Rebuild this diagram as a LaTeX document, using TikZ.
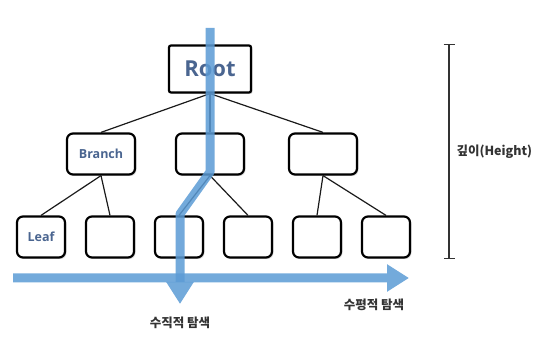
\documentclass[tikz,border=0pt]{standalone}
\usepackage{fontspec}
\setmainfont{Noto Sans CJK KR}
\newfontfamily\boxfont{Open Sans}
\usepackage{tikz}
\usetikzlibrary{
  arrows.meta,
  shadows
}
\definecolor{trFlow}{HTML}{5B9BD5}
\definecolor{trText}{HTML}{4A6590}
\definecolor{trLine}{HTML}{1A1A1A}
\tikzset{
  treebox/.style={
    draw=black, line width=2.2pt, rounded corners=6pt, fill=white,
    minimum width=48pt, minimum height=41pt, inner sep=0pt,
    font=\boxfont\bfseries\fontsize{12.5}{15}\selectfont, text=trText,
    drop shadow={shadow xshift=1.5pt, shadow yshift=-1.5pt, opacity=0.3}
  },
  rootbox/.style={treebox, rounded corners=2pt, minimum width=82pt, minimum height=47pt, font=\boxfont\bfseries\fontsize{22}{26}\selectfont},
  branchbox/.style={treebox, minimum width=68pt},
  leafbox/.style={treebox},
  edge/.style={line width=1.2pt, trLine},
  search/.style={line width=9pt, trFlow, -{Triangle[length=22pt, width=26pt]}},
  tag/.style={font=\bfseries\fontsize{12.5}{15}\selectfont, text=black!80}
}
\begin{document}
\begin{tikzpicture}[x=1pt, y=-1pt]
  \useasboundingbox (0,0) rectangle (550,339);
  % tree
  \node[rootbox] (root) at (210,69) {Root};
  \node[branchbox] (b1) at (101,154) {Branch};
  \node[branchbox] (b2) at (210,154) {};
  \node[branchbox] (b3) at (323,154) {};
  \node[leafbox] (l1) at (41,237) {Leaf};
  \node[leafbox] (l2) at (110,237) {};
  \node[leafbox] (l3) at (179,237) {};
  \node[leafbox] (l4) at (248,237) {};
  \node[leafbox] (l5) at (317,237) {};
  \node[leafbox] (l6) at (386,237) {};
  \foreach \b in {b1,b2,b3}
    \draw[edge] (root.south) -- (\b.north);
  \draw[edge] (b1.south) -- (l1.north);
  \draw[edge] (b1.south) -- (l2.north);
  \draw[edge] (b2.south) -- (l3.north);
  \draw[edge] (b2.south) -- (l4.north);
  \draw[edge] (b3.south) -- (l5.north);
  \draw[edge] (b3.south) -- (l6.north);
  % search arrows
  \coordinate (hs) at (13,278);
  \coordinate (he) at (409,278);
  \coordinate (vs) at (210,28);
  \coordinate (vb) at (210,172);
  \coordinate (vc) at (180,214);
  \coordinate (ve) at (180,304);
  \begin{scope}[transparency group, opacity=0.85]
    \draw[search] (hs) -- (he);
  \end{scope}
  \begin{scope}[transparency group, opacity=0.85]
    \draw[search, line join=round] (vs) -- (vb) -- (vc) -- (ve);
  \end{scope}
  \node[tag] (vlabel) at (180,323) {수직적 탐색};
  \node[tag] (hlabel) at (374,305) {수평적 탐색};
  % height bracket
  \coordinate (ht) at (449,44);
  \coordinate (hb) at (449,259);
  \draw[line width=1.2pt, black!80, {Bar[width=11pt]}-{Bar[width=11pt]}] (ht) -- (hb);
  \node[tag, anchor=west] (hlab) at (453,152) {깊이(Height)};
\end{tikzpicture}
\end{document}
